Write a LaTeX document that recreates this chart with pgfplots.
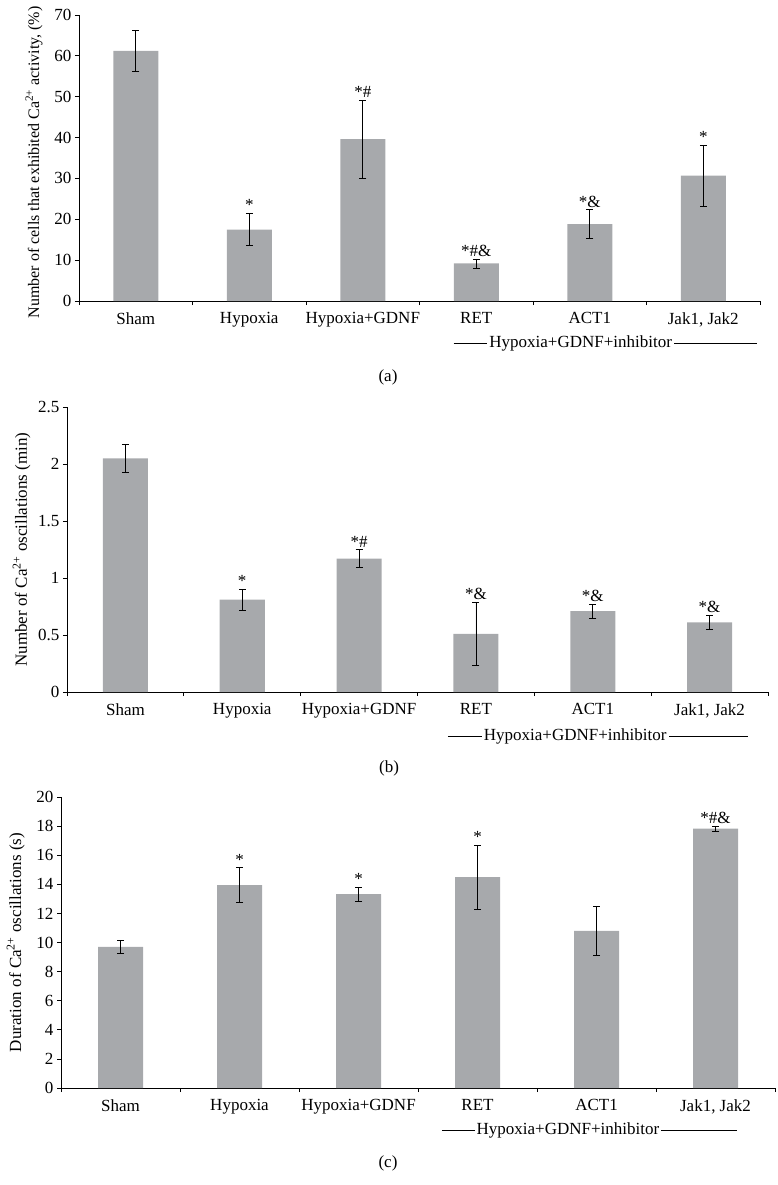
\documentclass[border=0pt]{standalone}
\usepackage{fontspec}
\setmainfont{Liberation Serif}
\usepackage{pgfplots}
\usepackage{pgfplotstable}
\pgfplotsset{compat=1.18}
\definecolor{bargray}{RGB}{167,169,172}
\newcommand{\fs}{\fontsize{17}{20}\selectfont}

\pgfplotstableread{
x y e
0 61.2 5.1
1 17.5 4.0
2 39.6 9.6
3 9.2 1.1
4 18.8 3.5
5 30.7 7.5
}\dataA
\pgfplotstableread{
x y e
0 2.05 0.12
1 0.81 0.09
2 1.17 0.08
3 0.51 0.28
4 0.71 0.06
5 0.61 0.065
}\dataB
\pgfplotstableread{
x y e
0 9.7 0.45
1 13.95 1.18
2 13.33 0.48
3 14.5 2.2
4 10.8 1.67
5 17.82 0.17
}\dataC

\pgfplotsset{
  panel/.style={
    scale only axis,
    ybar, bar width=45pt,
    xmin=-0.5, xmax=5.5, ymin=0,
    axis x line=bottom, axis y line=left,
    axis line style={-, line width=0.8pt, black},
    tick align=outside, major tick length=4pt,
    tick style={line width=0.8pt, black},
    xtick={-0.5,0.5,1.5,2.5,3.5,4.5,5.5},
    xticklabels={},
    extra x ticks={0,1,2,3,4,5},
    extra x tick labels={Sham,Hypoxia,Hypoxia+GDNF,RET,ACT1,{Jak1, Jak2}},
    extra x tick style={tick style={draw=none}, xticklabel style={yshift=-4pt}},
    font=\fs,
    tick label style={font=\fs},
    label style={font=\fs},
    /pgf/number format/assume math mode=true,
    clip=false,
  },
  mybars/.style={fill=bargray, draw=none,
    error bars/.cd, y dir=both, y explicit,
    error bar style={draw=black, line width=0.8pt},
    error mark options={rotate=90, draw=black, line width=0.8pt, mark size=3.5pt}},
}
\tikzset{
  ann/.style={anchor=base, inner sep=0pt, yshift=2.5pt, font=\fs},
  grp/.style={anchor=base, fill=white, inner sep=2pt, font=\fs},
}

\begin{document}
\begin{tikzpicture}
\path[use as bounding box] (0,0) rectangle (777pt,-1185pt);

% Panel (a)
\begin{axis}[panel,
  at={(79pt,-301pt)}, anchor=south west,
  width=681pt, height=286pt,
  ymax=70, ytick={0,10,...,70},
  ylabel={Number of cells that exhibited Ca\textsuperscript{2+} activity, (\%)},
  ylabel style={at={(axis description cs:-0.0587,0.485)}, anchor=base, font=\fontsize{16}{19}\selectfont},
]
\addplot[mybars] table[x=x, y=y, y error=e] {\dataA};
\node[ann] at (axis cs:1,21.5) {*};
\node[ann] at (axis cs:2,49.2) {*\#};
\node[ann] at (axis cs:3,10.3) {*\#\&};
\node[ann] at (axis cs:4,22.3) {*\&};
\node[ann] at (axis cs:5,38.2) {*};
\draw[line width=0.8pt] ([yshift=-42pt]axis cs:2.80,0) -- ([yshift=-42pt]axis cs:5.47,0);
\node[grp] at ([yshift=-46pt]axis cs:3.92,0) {Hypoxia+GDNF+inhibitor};
\end{axis}
\node[font=\fs] at (388pt,-377pt) {(a)};

% Panel (b)
\begin{axis}[panel,
  at={(67pt,-692pt)}, anchor=south west,
  width=701pt, height=285pt,
  ymax=2.5, ytick={0,0.5,1,1.5,2,2.5},
  ylabel={Number of Ca\textsuperscript{2+} oscillations (min)},
  ylabel style={at={(axis description cs:-0.0571,0.5)}, anchor=base},
]
\addplot[mybars] table[x=x, y=y, y error=e] {\dataB};
\node[ann] at (axis cs:1,0.90) {*};
\node[ann] at (axis cs:2,1.25) {*\#};
\node[ann] at (axis cs:3,0.79) {*\&};
\node[ann] at (axis cs:4,0.77) {*\&};
\node[ann] at (axis cs:5,0.675) {*\&};
\draw[line width=0.8pt] ([yshift=-44pt]axis cs:2.76,0) -- ([yshift=-44pt]axis cs:5.33,0);
\node[grp] at ([yshift=-48pt]axis cs:3.85,0) {Hypoxia+GDNF+inhibitor};
\end{axis}
\node[font=\fs] at (389pt,-768pt) {(b)};

% Panel (c)
\begin{axis}[panel,
  at={(61pt,-1088pt)}, anchor=south west,
  width=714pt, height=291pt,
  ymax=20, ytick={0,2,...,20},
  ylabel={Duration of Ca\textsuperscript{2+} oscillations (s)},
  ylabel style={at={(axis description cs:-0.056,0.5)}, anchor=base},
]
\addplot[mybars] table[x=x, y=y, y error=e] {\dataC};
\node[ann] at (axis cs:1,15.13) {*};
\node[ann] at (axis cs:2,13.81) {*};
\node[ann] at (axis cs:3,16.7) {*};
\node[ann] at (axis cs:5,17.99) {*\#\&};
\draw[line width=0.8pt] ([yshift=-42pt]axis cs:2.70,0) -- ([yshift=-42pt]axis cs:5.18,0);
\node[grp] at ([yshift=-46pt]axis cs:3.76,0) {Hypoxia+GDNF+inhibitor};
\end{axis}
\node[font=\fs] at (388pt,-1163pt) {(c)};
\end{tikzpicture}
\end{document}
